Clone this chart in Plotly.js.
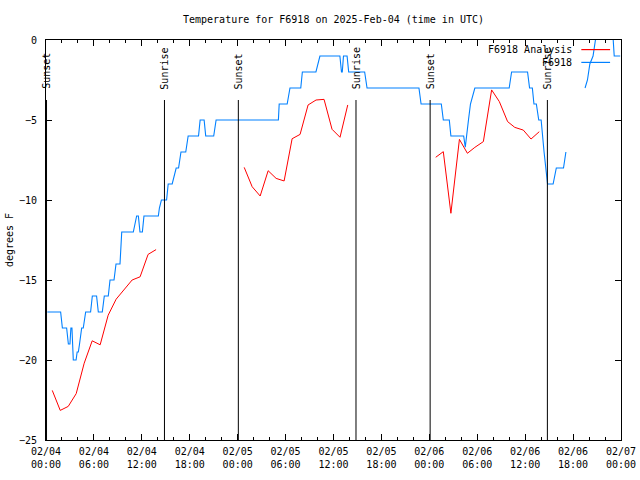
<!DOCTYPE html>
<html>
<head>
<meta charset="utf-8">
<script src="https://cdn.plot.ly/plotly-3.0.1.min.js"></script>
<style>html,body{margin:0;padding:0;background:#fff;}#chart{width:640px;height:480px;}</style>
</head>
<body>
<div id="chart"></div>
<script>
// Observed temperature (F6918), deg F
var obsTimes = [
 '2025-02-04 00:10','2025-02-04 01:50','2025-02-04 02:03','2025-02-04 02:35','2025-02-04 02:48','2025-02-04 03:00',
 '2025-02-04 03:07','2025-02-04 03:15','2025-02-04 03:25','2025-02-04 03:46','2025-02-04 03:54','2025-02-04 04:03',
 '2025-02-04 04:12','2025-02-04 04:18','2025-02-04 04:28','2025-02-04 04:40','2025-02-04 04:48','2025-02-04 04:58',
 '2025-02-04 05:35','2025-02-04 05:48','2025-02-04 06:20','2025-02-04 06:33','2025-02-04 07:03','2025-02-04 07:18',
 '2025-02-04 07:48','2025-02-04 08:01','2025-02-04 08:31','2025-02-04 08:46','2025-02-04 09:16','2025-02-04 09:22',
 '2025-02-04 09:29','2025-02-04 10:56','2025-02-04 11:21','2025-02-04 11:34','2025-02-04 11:46','2025-02-04 12:04',
 '2025-02-04 12:16','2025-02-04 14:04','2025-02-04 14:12','2025-02-04 14:27','2025-02-04 15:06','2025-02-04 15:18',
 '2025-02-04 15:48','2025-02-04 16:18','2025-02-04 16:36','2025-02-04 16:54','2025-02-04 17:30','2025-02-04 17:48',
 '2025-02-04 19:06','2025-02-04 19:18','2025-02-04 19:48','2025-02-04 20:00','2025-02-04 21:00','2025-02-04 21:18',
 '2025-02-05 05:06','2025-02-05 05:12','2025-02-05 06:12','2025-02-05 06:33','2025-02-05 07:54','2025-02-05 08:06',
 '2025-02-05 09:48','2025-02-05 10:18','2025-02-05 12:48','2025-02-05 13:00','2025-02-05 13:06','2025-02-05 13:15',
 '2025-02-05 13:42','2025-02-05 13:54','2025-02-05 15:54','2025-02-05 16:12','2025-02-05 22:42','2025-02-05 22:58',
 '2025-02-06 01:30','2025-02-06 01:45','2025-02-06 02:30','2025-02-06 02:42','2025-02-06 04:18','2025-02-06 04:30',
 '2025-02-06 04:42','2025-02-06 04:54','2025-02-06 05:09','2025-02-06 05:42','2025-02-06 10:00','2025-02-06 10:18',
 '2025-02-06 12:18','2025-02-06 12:33','2025-02-06 12:54','2025-02-06 13:06','2025-02-06 13:24','2025-02-06 13:42',
 '2025-02-06 14:00','2025-02-06 14:09','2025-02-06 14:22','2025-02-06 14:48','2025-02-06 15:30','2025-02-06 15:54',
 '2025-02-06 16:48','2025-02-06 17:06','2025-02-06 18:00',
 '2025-02-06 19:30','2025-02-06 19:48','2025-02-06 20:06','2025-02-06 20:30','2025-02-06 20:48','2025-02-06 21:00',
 '2025-02-06 22:54','2025-02-06 23:09','2025-02-06 23:54'
];
var obsTemps = [
 -17,-17,-18,-18,-19,-19,
 -18,-18,-20,-20,-19.5,-19.5,
 -19,-18.5,-18,-18,-17.5,-17,
 -17,-16,-16,-17,-17,-16,
 -16,-15,-15,-14,-14,-13,
 -12,-12,-11,-11,-12,-12,
 -11,-11,-10.5,-10,-10,-9,
 -9,-8,-8,-7,-7,-6,
 -6,-5,-5,-6,-6,-5,
 -5,-4,-4,-3,-3,-2,
 -2,-1,-1,-2,-2,-1,
 -1,-2,-2,-3,-3,-4,
 -4,-5,-5,-6,-6,-6.7,
 -6,-5,-4,-3,-3,-2,
 -2,-3,-3,-4,-4,-5,
 -5,-6,-7,-9,-9,-8,
 -8,-7,null,
 -3,-2.5,-1.5,-1,0,1,
 1,-1,-1
];

// Analysis (F6918 Analysis), deg F
var anaTimes = [
 '2025-02-04 00:47','2025-02-04 01:47','2025-02-04 02:47','2025-02-04 03:47','2025-02-04 04:47','2025-02-04 05:47',
 '2025-02-04 06:47','2025-02-04 07:47','2025-02-04 08:47','2025-02-04 09:47','2025-02-04 10:47','2025-02-04 11:47',
 '2025-02-04 12:47','2025-02-04 13:47','2025-02-04 18:00',
 '2025-02-05 00:49','2025-02-05 01:49','2025-02-05 02:49','2025-02-05 03:49','2025-02-05 04:49','2025-02-05 05:49',
 '2025-02-05 06:49','2025-02-05 07:49','2025-02-05 08:49','2025-02-05 09:49','2025-02-05 10:49','2025-02-05 11:49',
 '2025-02-05 12:49','2025-02-05 13:47','2025-02-05 18:00',
 '2025-02-06 00:48','2025-02-06 01:45','2025-02-06 02:42','2025-02-06 03:46','2025-02-06 04:46','2025-02-06 05:42',
 '2025-02-06 06:46','2025-02-06 07:48','2025-02-06 08:46','2025-02-06 09:48','2025-02-06 10:42','2025-02-06 11:46',
 '2025-02-06 12:44','2025-02-06 13:46'
];
var anaTemps = [
 -21.9,-23.15,-22.9,-22.1,-20.2,-18.8,
 -19.05,-17.2,-16.2,-15.6,-15.0,-14.8,
 -13.4,-13.1,null,
 -7.96,-9.17,-9.75,-8.17,-8.65,-8.81,
 -6.17,-5.9,-4.06,-3.75,-3.71,-5.58,
 -6.08,-4.06,null,
 -7.33,-6.98,-10.83,-6.21,-7.08,-6.71,
 -6.35,-3.12,-3.85,-5.1,-5.46,-5.63,
 -6.19,-5.73
];

// Sunrise / sunset markers
var sunTimes = ['2025-02-04 00:04','2025-02-04 14:50','2025-02-05 00:05','2025-02-05 14:49','2025-02-06 00:06','2025-02-06 14:47'];
var sunLabels = ['Sunset','Sunrise','Sunset','Sunrise','Sunset','Sunrise'];

var xTickVals = ['2025-02-04 00:00','2025-02-04 06:00','2025-02-04 12:00','2025-02-04 18:00',
 '2025-02-05 00:00','2025-02-05 06:00','2025-02-05 12:00','2025-02-05 18:00',
 '2025-02-06 00:00','2025-02-06 06:00','2025-02-06 12:00','2025-02-06 18:00','2025-02-07 00:00'];
var xTickText = ['02/04<br>00:00','02/04<br>06:00','02/04<br>12:00','02/04<br>18:00',
 '02/05<br>00:00','02/05<br>06:00','02/05<br>12:00','02/05<br>18:00',
 '02/06<br>00:00','02/06<br>06:00','02/06<br>12:00','02/06<br>18:00','02/07<br>00:00'];
var seriesNames = ['F6918 Analysis','F6918'];
var seriesColors = ['#ff0000','#0080ff'];

var FONT = 'DejaVu Sans Mono, Liberation Mono, monospace';
var FS = 10;

var traces = [
 {x: anaTimes, y: anaTemps, type:'scatter', mode:'lines', name:seriesNames[0],
  line:{color:seriesColors[0], width:1}, connectgaps:false, showlegend:false},
 {x: obsTimes, y: obsTemps, type:'scatter', mode:'lines', name:seriesNames[1],
  line:{color:seriesColors[1], width:1.1}, connectgaps:false, showlegend:false}
];

var shapes = [];
var annotations = [];
for (var i = 0; i < sunTimes.length; i++) {
  shapes.push({type:'line', xref:'x', yref:'y', x0:sunTimes[i], x1:sunTimes[i], y0:-25, y1:-3.75,
    line:{color:'#000', width:1}});
  annotations.push({xref:'x', yref:'y', x:sunTimes[i], y:-3.2, text:sunLabels[i], textangle:-90,
    showarrow:false, xanchor:'center', yanchor:'bottom', font:{family:FONT, size:FS, color:'#000'}});
}
// legend (gnuplot style: text then sample)
var legY = [0.976, 0.944];
for (var j = 0; j < 2; j++) {
  annotations.push({xref:'paper', yref:'paper', x:0.919, y:legY[j], text:seriesNames[j], showarrow:false,
    xanchor:'right', yanchor:'middle', font:{family:FONT, size:FS, color:'#000'}});
  shapes.push({type:'line', xref:'paper', yref:'paper', x0:0.931, x1:0.981, y0:legY[j], y1:legY[j],
    line:{color:seriesColors[j], width:1.2}});
}

var layout = {
  width:640, height:480,
  paper_bgcolor:'#fff', plot_bgcolor:'#fff',
  margin:{l:46, r:19, t:40, b:40, pad:0},
  font:{family:FONT, size:FS, color:'#000'},
  title:{text:'Temperature for F6918 on 2025-Feb-04 (time in UTC)', x:0.5, xref:'paper', xanchor:'center',
    y:0.96, yref:'container', yanchor:'middle', font:{family:FONT, size:FS, color:'#000'}},
  showlegend:false,
  xaxis:{type:'date', range:['2025-02-04 00:00','2025-02-07 00:00'], tickmode:'array',
    tickvals:xTickVals, ticktext:xTickText, ticks:'inside', ticklen:6, tickwidth:1, tickcolor:'#000',
    showgrid:false, zeroline:false, showline:true, linecolor:'#000', linewidth:1, mirror:'allticks',
    tickfont:{family:FONT, size:FS, color:'#000'}, ticklabelstandoff:2,
    minor:{tickmode:'linear', tick0:'2025-02-04 00:00', dtick:7200000, ticks:'inside', ticklen:3, tickcolor:'#000', showgrid:false}},
  yaxis:{range:[-25,0], tickmode:'linear', tick0:-25, dtick:5, ticks:'inside', ticklen:6, tickwidth:1, tickcolor:'#000',
    showgrid:false, zeroline:false, showline:true, linecolor:'#000', linewidth:1, mirror:'allticks',
    tickfont:{family:FONT, size:FS, color:'#000'}, ticklabelstandoff:6,
    title:{text:'degrees F', standoff:3, font:{family:FONT, size:FS, color:'#000'}}},
  shapes:shapes,
  annotations:annotations
};

Plotly.newPlot('chart', traces, layout, {staticPlot:true, displayModeBar:false});
</script>
</body>
</html>
